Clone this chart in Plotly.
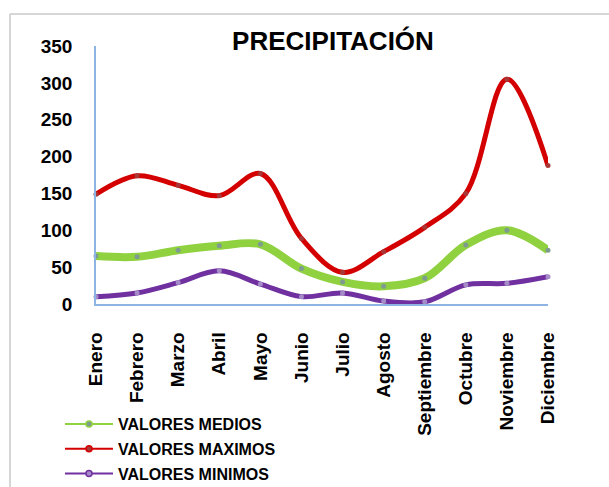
import plotly.graph_objects as go

# Monthly precipitation (mm)
meses = ["Enero", "Febrero", "Marzo", "Abril", "Mayo", "Junio", "Julio",
         "Agosto", "Septiembre", "Octubre", "Noviembre", "Diciembre"]
valores_medios = [65, 64, 73, 79, 81, 48, 30, 24, 35, 80, 100, 73]
valores_maximos = [149, 174, 161, 147, 177, 89, 43, 71, 104, 150, 305, 188]
valores_minimos = [10, 15, 29, 45, 27, 10, 15, 4, 3, 26, 28, 37]
y_ticks = [0, 50, 100, 150, 200, 250, 300, 350]

FONT = "Liberation Sans, Arial, sans-serif"
W, H = 609, 487
L, R, T, B = 96, 61, 46, 183

series = [
    ("VALORES MEDIOS", valores_medios, "#8fd13f", 8, "#7f9a90"),
    ("VALORES MAXIMOS", valores_maximos, "#d40000", 5, "#a83838"),
    ("VALORES MINIMOS", valores_minimos, "#7030a0", 5, "#a58cc8"),
]

fig = go.Figure()
for i, (name, vals, color, width, mcol) in enumerate(series):
    fig.add_trace(go.Scatter(
        x=list(range(len(meses))), y=vals, name=name, mode="lines+markers",
        line=dict(color=color, width=width, shape="spline", smoothing=1.0),
        marker=dict(size=5, color=mcol, line=dict(width=0)),
        cliponaxis=False, showlegend=False,
    ))

# legend keys: thin line with a small ringed dot
for i, (name, vals, color, width, mcol) in enumerate(series):
    fig.add_trace(go.Scatter(
        x=[None], y=[None], name=name, mode="lines+markers",
        line=dict(color=color, width=2),
        marker=dict(size=6, color=mcol, line=dict(color=color, width=1.5)),
        legendgroup=f"g{i}", showlegend=True,
    ))

pw = W - L - R
ph = H - T - B


def px_x(px):
    return (px - L) / pw


def px_y(py):
    return (H - B - py) / ph


# chart-area frame (top and left edges)
frame = dict(color="#c8c8c8", width=1.5)
fig.add_shape(type="line", xref="paper", yref="paper",
              x0=px_x(10), x1=px_x(W), y0=px_y(14), y1=px_y(14), line=frame)
fig.add_shape(type="line", xref="paper", yref="paper",
              x0=px_x(10), x1=px_x(10), y0=px_y(14), y1=px_y(H), line=frame)

fig.update_layout(
    width=W, height=H,
    margin=dict(l=L, r=R, t=T, b=B, autoexpand=False),
    paper_bgcolor="white", plot_bgcolor="white",
    title=dict(text="<b>PRECIPITACIÓN</b>", font=dict(family=FONT, size=26, color="black"),
               xref="container", yref="container", x=333 / W, xanchor="center",
               y=1 - 41 / H, yanchor="middle"),
    xaxis=dict(range=[0, len(meses) - 1], tickmode="array",
               tickvals=list(range(len(meses))), ticktext=meses,
               tickangle=-90, showgrid=False, zeroline=False,
               showline=True, linecolor="#8eb4e3", linewidth=1.5,
               ticks="", ticklabelstandoff=19, automargin=False,
               tickfont=dict(family=FONT, size=19, color="black", weight="bold")),
    yaxis=dict(range=[0, 350], tickmode="array", tickvals=y_ticks,
               showgrid=False, zeroline=False,
               showline=True, linecolor="#8eb4e3", linewidth=1.5,
               ticks="", ticklabelstandoff=18, automargin=False,
               tickfont=dict(family=FONT, size=19, color="black", weight="bold")),
    legend=dict(x=px_x(60), y=px_y(407), xanchor="left", yanchor="top",
                traceorder="grouped", tracegroupgap=1, itemwidth=48,
                bgcolor="rgba(0,0,0,0)",
                font=dict(family=FONT, size=16, color="black", weight="bold")),
    showlegend=True,
)

fig.write_html("out.html")
